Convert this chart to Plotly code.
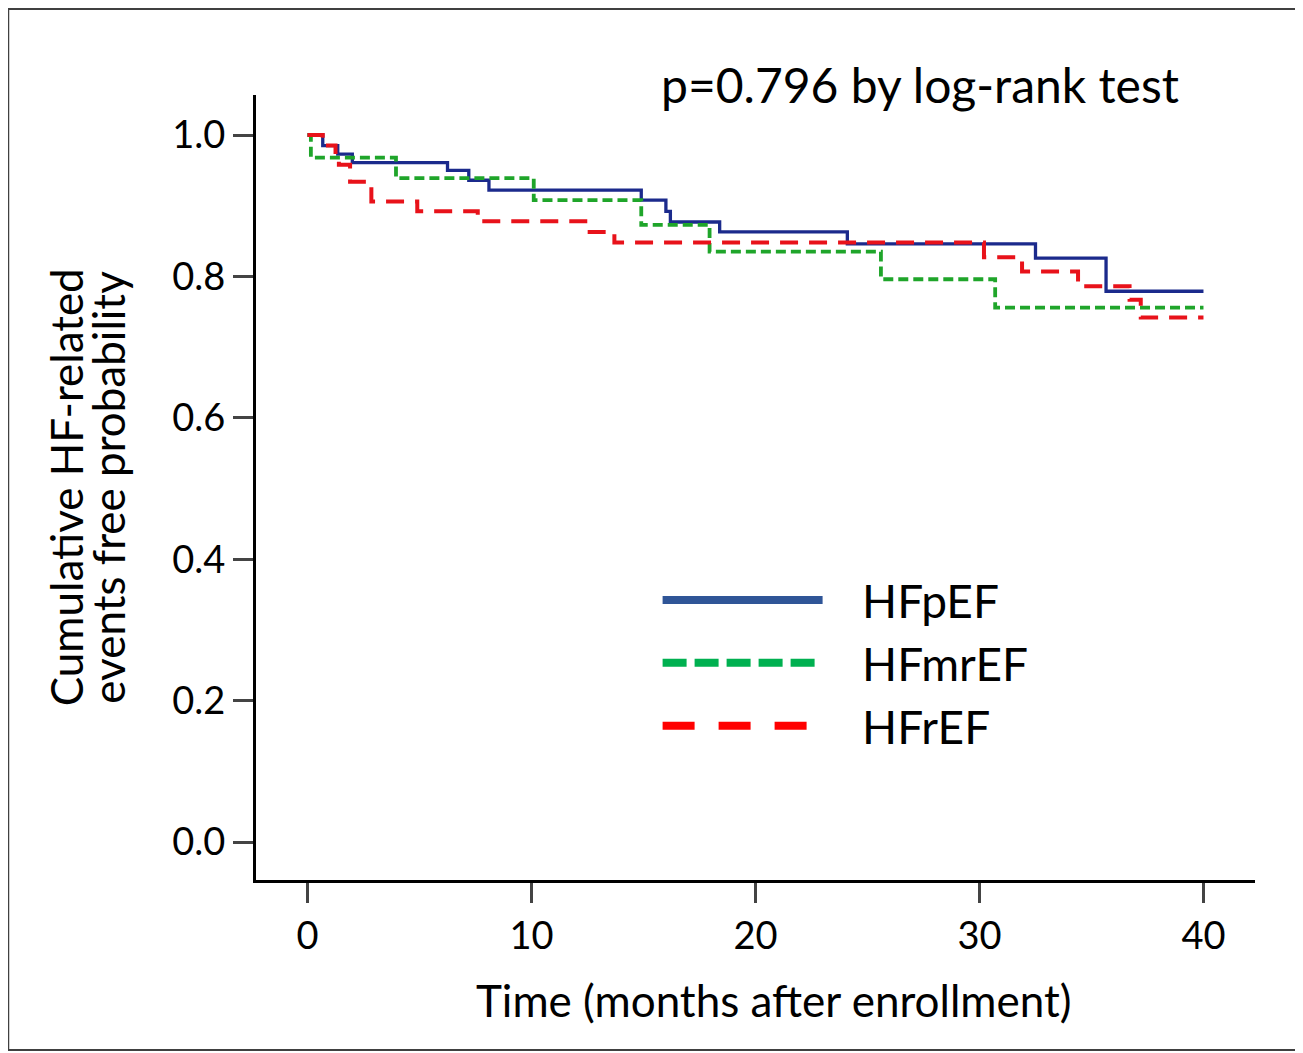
import plotly.graph_objects as go

# ---- data ----
hfpef_t = [0, 0.68, 1.35, 2.0, 6.25, 7.2, 8.1, 14.9, 16.0, 16.2, 18.4, 24.1, 32.5, 35.65, 40]
hfpef_s = [1.0, 0.985, 0.973, 0.961, 0.950, 0.936, 0.922, 0.908, 0.892, 0.877, 0.863, 0.846, 0.826, 0.779, 0.779]

hfmref_t = [0, 0.15, 3.95, 10.1, 14.9, 17.95, 25.6, 30.7, 40]
hfmref_s = [1.0, 0.968, 0.939, 0.908, 0.873, 0.835, 0.796, 0.756, 0.756]

hfref_t = [0, 0.68, 1.25, 1.4, 1.9, 2.85, 4.9, 7.6, 12.4, 13.7, 30.2, 31.9, 34.4, 36.7, 37.2, 40]
hfref_s = [1.0, 0.985, 0.970, 0.958, 0.934, 0.906, 0.892, 0.878, 0.863, 0.848, 0.827, 0.807, 0.786, 0.767, 0.742, 0.742]

series_names = ["HFpEF", "HFmrEF", "HFrEF"]
x_ticks = [0, 10, 20, 30, 40]
y_ticks = [0.0, 0.2, 0.4, 0.6, 0.8, 1.0]
annotation_text = "p=0.796 by log-rank test"
x_title = "Time (months after enrollment)"
y_title_lines = ["Cumulative HF-related", "events free probability"]

FONT = "Lato"

fig = go.Figure()

# curves
fig.add_trace(go.Scatter(x=hfpef_t, y=hfpef_s, mode="lines", line_shape="hv",
                         line=dict(color="#1b2a8c", width=3.3), showlegend=False, name=series_names[0]))
fig.add_trace(go.Scatter(x=hfmref_t, y=hfmref_s, mode="lines", line_shape="hv",
                         line=dict(color="#1fa52a", width=3.8, dash="10px,5px"), showlegend=False, name=series_names[1]))
fig.add_trace(go.Scatter(x=hfref_t, y=hfref_s, mode="lines", line_shape="hv",
                         line=dict(color="#e8121a", width=4, dash="18px,11px"), showlegend=False, name=series_names[2]))

# legend entries (styled like the reference key)
legend_styles = [
    dict(color="#2f5597", width=8, dash="solid"),
    dict(color="#00b050", width=8, dash="24px,8px"),
    dict(color="#ff0000", width=8, dash="32px,24px"),
]
for nm, st in zip(series_names, legend_styles):
    fig.add_trace(go.Scatter(x=[None], y=[None], mode="lines", line=st, name="\u2003" + nm,
                             showlegend=True, legendgroup=nm))

fig.update_layout(
    width=1303, height=1053,
    margin=dict(l=248, r=56, t=87, b=181),
    paper_bgcolor="white", plot_bgcolor="white",
    font=dict(family=FONT, color="black", size=38),
    legend=dict(x=0.402, y=0.403, xanchor="left", yanchor="top",
                itemwidth=160, font=dict(size=46), tracegroupgap=0,
                bgcolor="rgba(0,0,0,0)"),
    xaxis=dict(range=[-2.3, 42.3], tickvals=x_ticks, ticks="outside", ticklen=20, tickwidth=3,
               showline=True, linewidth=3, linecolor="black", showgrid=False, zeroline=False,
               tickfont=dict(size=38)),
    yaxis=dict(range=[-0.0537, 1.0566], tickvals=y_ticks, tickformat=".1f", ticks="outside", ticklen=20, tickwidth=3,
               showline=True, linewidth=3, linecolor="black", showgrid=False, zeroline=False,
               tickfont=dict(size=38)),
    annotations=[
        dict(text=annotation_text, xref="paper", yref="paper", x=0.665, y=1.013,
             xanchor="center", yanchor="middle", showarrow=False, font=dict(size=48)),
        dict(text=x_title, xref="paper", yref="paper", x=0.5185, y=-0.153,
             xanchor="center", yanchor="middle", showarrow=False, font=dict(size=44)),
        dict(text=y_title_lines[0], xref="paper", yref="paper", x=-0.190, y=0.5006, textangle=-90,
             xanchor="center", yanchor="middle", showarrow=False, font=dict(size=44)),
        dict(text=y_title_lines[1], xref="paper", yref="paper", x=-0.1485, y=0.5006, textangle=-90,
             xanchor="center", yanchor="middle", showarrow=False, font=dict(size=44)),
    ],
    shapes=[dict(type="rect", xref="paper", yref="paper", x0=-0.248, x1=1.045, y0=-0.2166, y1=1.1096,
                 line=dict(color="#404040", width=2), fillcolor="rgba(0,0,0,0)", layer="below")],
)

fig.write_html("out.html")
